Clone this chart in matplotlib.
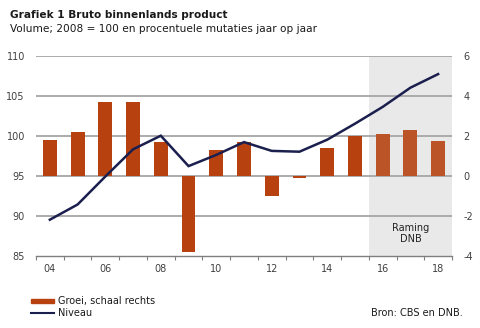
import matplotlib
matplotlib.use("Agg")
import matplotlib.pyplot as plt
import numpy as np

# GDP data: growth (% y/y, right axis) and volume index (2008 = 100, left axis)
years = list(range(2004, 2019))
growth = [1.8, 2.2, 3.7, 3.7, 1.7, -3.8, 1.3, 1.7, -1.0, -0.1, 1.4, 2.0, 2.1, 2.3, 1.75]
level = [89.5, 91.4, 94.9, 98.3, 100.0, 96.2, 97.6, 99.2, 98.1, 98.0, 99.5, 101.5, 103.6, 106.0, 107.7]
forecast_from = 2016
left_ticks = [85, 90, 95, 100, 105, 110]
right_ticks = [-4, -2, 0, 2, 4, 6]
xtick_labels = ["04", "06", "08", "10", "12", "14", "16", "18"]

plt.rcParams["font.family"] = ["DejaVu Sans"]

W, H = 480, 328
fig = plt.figure(figsize=(W / 100, H / 100), dpi=100)

# plot area in pixels: x 36..452, y 55.7..255.7
ax = fig.add_axes([36 / W, 1 - 255.7 / H, (452 - 36) / W, 200 / H])
ax2 = ax.twinx()

x = np.array(years)
ax.set_xlim(years[0] - 0.5, years[-1] + 0.5)
ax.set_ylim(85, 110)
ax2.set_ylim(-4, 6)

grid_col = "#a6a6a6"
txt_col = "#404040"

# forecast shading
ax.axvspan(forecast_from - 0.5, years[-1] + 0.5, color="#e9e9e9", zorder=0, lw=0)
ax.text(2017, -2.9, "Raming\nDNB", ha="center", va="center", fontsize=7,
        color="#222222", linespacing=1.2, transform=ax2.transData, zorder=5)

for v in left_ticks[1:]:
    ax.axhline(v, color=grid_col, lw=1.3, zorder=1)

bar_cols = ["#b8420f" if y < forecast_from else "#bb5528" for y in years]
ax2.bar(x, growth, width=0.5, color=bar_cols, zorder=2, edgecolor="none")
ax2.plot(x, [(l - 95) * 0.4 for l in level], color="#1b1f4e", lw=1.8, zorder=3,
         solid_joinstyle="miter")

for a in (ax, ax2):
    for s in a.spines.values():
        s.set_visible(False)
ax.spines["bottom"].set_visible(True)
ax.spines["bottom"].set_color("#7f7f7f")
ax.spines["bottom"].set_linewidth(1.0)
ax.set_zorder(0)
ax2.set_zorder(1)
ax.patch.set_visible(False)

ax.set_yticks(left_ticks)
ax.set_yticklabels([str(v) for v in left_ticks])
ax2.set_yticks(right_ticks)
ax2.set_yticklabels([str(v) for v in right_ticks])
ax.tick_params(axis="y", length=0, labelsize=7, colors=txt_col, pad=8)
ax2.tick_params(axis="y", length=0, labelsize=7, colors=txt_col, pad=8)

ax.set_xticks(np.arange(years[0] - 0.5, years[-1] + 1.0, 1.0))
ax.set_xticklabels([])
ax.tick_params(axis="x", which="major", direction="out", length=3, color="#7f7f7f", width=0.8)
ax.set_xticks(years[::2], minor=True)
ax.set_xticklabels(xtick_labels, minor=True)
ax.tick_params(axis="x", which="minor", length=0, labelsize=7, colors=txt_col, pad=6)

# titles
fig.text(10 / W, 1 - 15 / H, "Grafiek 1 Bruto binnenlands product", fontsize=7.6,
         fontweight="bold", color="#1a1a1a", va="center", ha="left")
fig.text(10 / W, 1 - 29 / H, "Volume; 2008 = 100 en procentuele mutaties jaar op jaar",
         fontsize=7.6, color="#1a1a1a", va="center", ha="left")

# legend
fig.patches.append(plt.Rectangle((31 / W, 1 - 303 / H), 23 / W, 4 / H,
                                 transform=fig.transFigure, color="#b8420f"))
fig.lines.append(plt.Line2D([31 / W, 54 / W], [1 - 313 / H, 1 - 313 / H],
                            transform=fig.transFigure, color="#1b1f4e", lw=1.5))
fig.text(58 / W, 1 - 301 / H, "Groei, schaal rechts", fontsize=7, color="#1a1a1a",
         va="center", ha="left")
fig.text(58 / W, 1 - 313 / H, "Niveau", fontsize=7, color="#1a1a1a", va="center", ha="left")
fig.text(463 / W, 1 - 313 / H, "Bron: CBS en DNB.", fontsize=7, color="#1a1a1a",
         va="center", ha="right")

fig.savefig("out.png", dpi=100, facecolor="white")
